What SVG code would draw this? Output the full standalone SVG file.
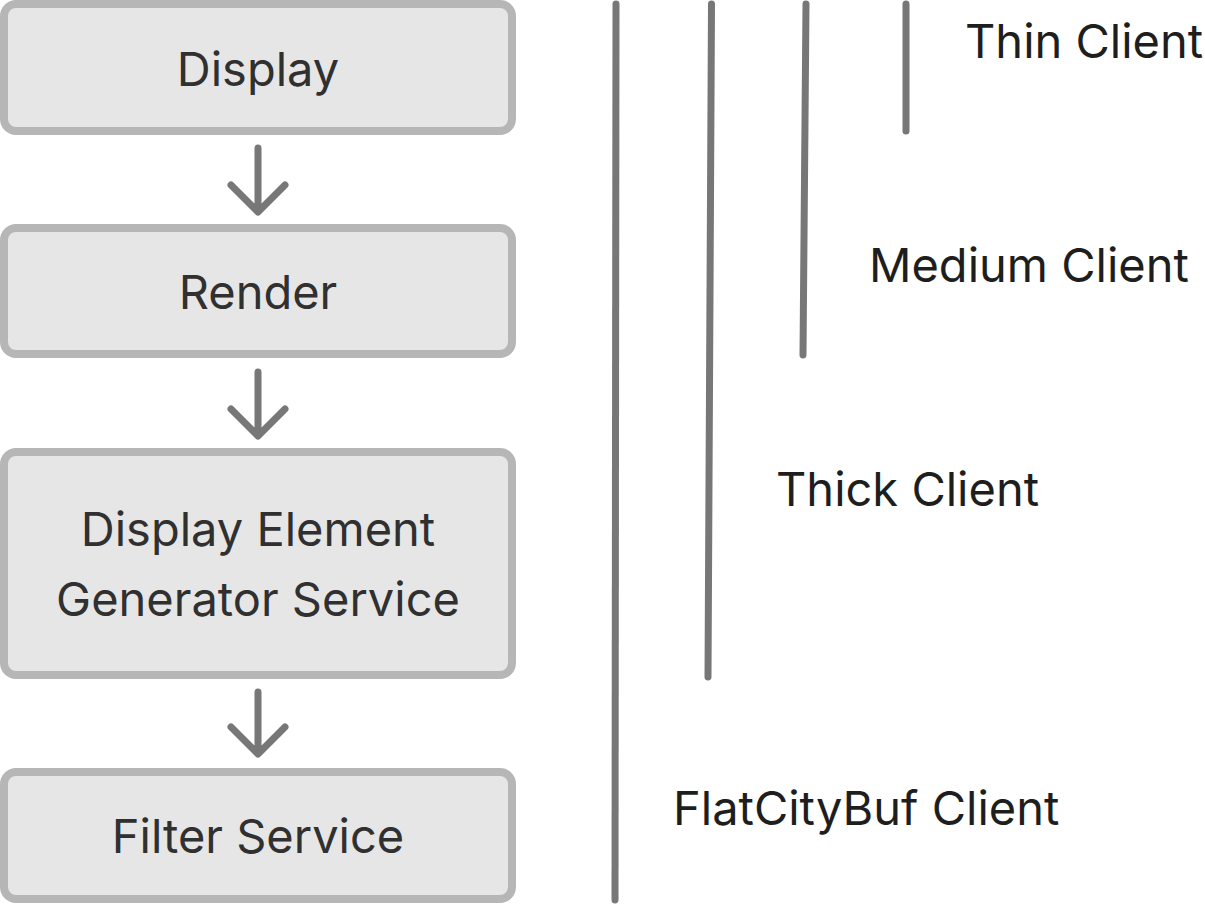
<svg xmlns="http://www.w3.org/2000/svg" width="1205" height="904" viewBox="0 0 1205 904">
<style>
.box{fill:#e6e6e6;stroke:#b6b6b6;stroke-width:8}
.bt{font-family:Inter,"Liberation Sans",sans-serif;font-size:47px;fill:#303030;text-anchor:middle}
.lt{font-family:Inter,"Liberation Sans",sans-serif;font-size:47px;fill:#1e1e1e}
.ln{stroke:#777;stroke-width:7;stroke-linecap:round;stroke-linejoin:round;fill:none}
</style>
<rect width="1205" height="904" fill="#fff"/>
<g id="display"><rect class="box" x="4" y="4" width="508" height="127" rx="12"/><text class="bt" x="258" y="86">Display</text></g>
<g id="render"><rect class="box" x="4" y="228" width="508" height="126" rx="12"/><text class="bt" x="258" y="309">Render</text></g>
<g id="degs"><rect class="box" x="4" y="452" width="508" height="223" rx="12"/><text class="bt" x="258" y="546">Display Element</text><text class="bt" x="258" y="616">Generator Service</text></g>
<g id="filter"><rect class="box" x="4" y="772" width="508" height="127" rx="12"/><text class="bt" x="258" y="853">Filter Service</text></g>
<g id="connectors">
<path class="ln" d="M258 148V211M231 185L258 212L285 185"/>
<path class="ln" d="M258 372V435M231 409L258 436L285 409"/>
<path class="ln" d="M258 692V753M231 727L258 754L285 727"/>
</g>
<g id="bars">
<path class="ln" d="M616 4L615 900"/>
<path class="ln" d="M711.5 4L708 677"/>
<path class="ln" d="M806 4L803 355"/>
<path class="ln" d="M906 4V131"/>
</g>
<g id="labels">
<text class="lt" x="965" y="58">Thin Client</text>
<text class="lt" x="869" y="282">Medium Client</text>
<text class="lt" x="776" y="506">Thick Client</text>
<text class="lt" x="673" y="825">FlatCityBuf Client</text>
</g>
</svg>
